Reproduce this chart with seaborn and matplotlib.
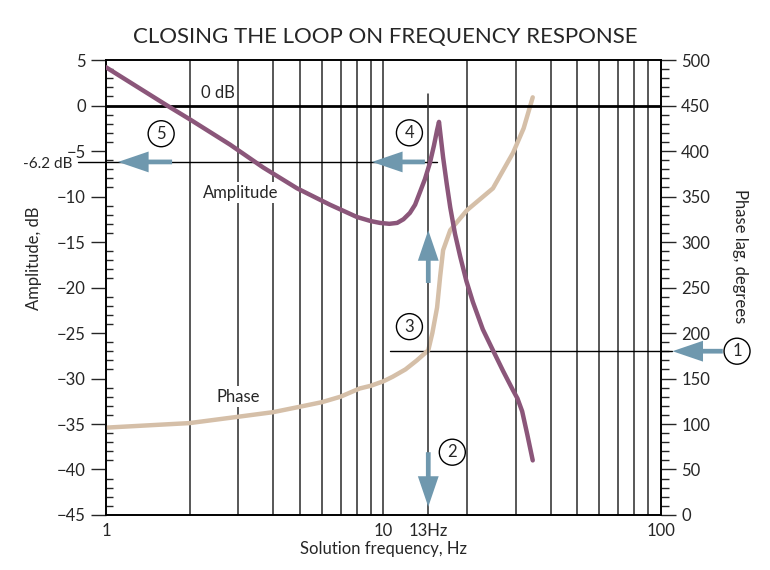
import numpy as np
import matplotlib
matplotlib.use("Agg")
import matplotlib.pyplot as plt
import seaborn as sns

# Amplitude curve (left axis, dB)
amp_freq = [1.0, 1.66, 2.0, 2.8, 3.68, 4.88, 6.41, 8.02, 9.0, 9.71, 10.5, 11.2, 11.8, 12.45,
            13.0, 13.5, 14.1, 14.7, 15.2, 15.6, 15.85, 16.1, 16.4, 16.9, 17.4, 18.1, 18.9,
            19.9, 21.0, 22.8, 24.8, 27.0, 29.3, 30.4, 31.6, 33.0, 34.5]
amp_db = [4.2, 0.0, -1.5, -4.3, -6.8, -9.1, -10.9, -12.25, -12.7, -12.9, -13.0, -12.9, -12.5,
          -11.8, -10.9, -9.6, -8.1, -6.3, -4.4, -2.7, -1.8, -3.6, -5.7, -8.6, -11.2, -14.1,
          -16.6, -19.3, -21.6, -24.6, -26.9, -29.2, -31.3, -32.2, -33.6, -36.2, -39.0]

# Phase curve (right axis, degrees)
ph_freq = [1.0, 2.0, 3.0, 4.0, 5.0, 6.0, 7.0, 8.2, 9.0, 10.0, 10.8, 12.0, 13.2, 14.5, 15.0,
           15.6, 16.0, 16.4, 17.4, 20.0, 24.8, 29.3, 32.0, 34.5]
ph_deg = [96, 101, 108, 113, 119, 124, 130, 139, 142, 147, 152, 160, 170, 181, 200,
          228, 262, 291, 313, 335, 359, 398, 425, 459]

# reference values
marker_freq = 14.5     # the "13Hz" line as drawn
marker_db = -6.2
marker_phase = 180

xtick_vals = [1, 10, marker_freq, 100]
xtick_labels = ["1", "10", "13Hz", "100"]
grid_freqs = [2, 3, 4, 5, 6, 7, 8, 9, 10, 20, 30, 40, 50, 60, 70, 80, 90]

purple = "#8b567a"
tan = "#d5bfa8"
blue = "#6f98ae"

sns.set_style("white")
plt.rcParams["font.family"] = ["Lato", "DejaVu Sans"]

fig = plt.figure(figsize=(7.7, 5.7), dpi=100)
ax = fig.add_axes([0.1377, 0.0965, 0.7207, 0.7982])
ax2 = ax.twinx()
ax.set_zorder(ax2.get_zorder() + 1)
ax.patch.set_visible(False)

ax.set_xscale("log")
ax.set_xlim(1, 100)
ax.set_ylim(-45, 5)
ax2.set_ylim(0, 500)

# grid lines
for g in grid_freqs:
    ax2.axvline(g, color="#2a2a2a", lw=1.1, zorder=1)
ax.axhline(0, color="black", lw=2, zorder=1)
ax.plot([marker_freq, marker_freq], [1.26, -45], color="#2a2a2a", lw=1.1, zorder=1)
ax.plot([0.793, 15.6], [marker_db, marker_db], color="black", lw=1, zorder=1, clip_on=False)
ax2.plot([10.55, 109.6], [marker_phase, marker_phase], color="black", lw=1, zorder=1, clip_on=False)

sns.lineplot(x=ph_freq, y=ph_deg, ax=ax2, color=tan, lw=3.2, zorder=3)
sns.lineplot(x=amp_freq, y=amp_db, ax=ax, color=purple, lw=3.2, zorder=4)

# labels in the plot
bb = dict(boxstyle="square,pad=0.15", fc="white", ec="none")
ax.text(2.53, 1.4, "0 dB", fontsize=12, ha="center", va="center")
ax.text(3.07, -9.6, "Amplitude", fontsize=12, ha="center", va="center", bbox=bb, zorder=2)
ax.text(2.99, -32.0, "Phase", fontsize=12, ha="center", va="center", bbox=bb, zorder=2)
ax.text(0.754, marker_db - 0.25, "-6.2 dB", fontsize=11, ha="right", va="center", clip_on=False)

# arrows
arrow = dict(arrowstyle="simple,head_length=2.2,head_width=1.5,tail_width=0.34",
             color=blue, lw=0, shrinkA=0, shrinkB=0, mutation_scale=10)
ax.annotate("", xy=(1.105, marker_db), xytext=(1.73, marker_db), arrowprops=arrow, zorder=5)
ax.annotate("", xy=(9.09, marker_db), xytext=(14.1, marker_db), arrowprops=arrow, zorder=5)
ax.annotate("", xy=(marker_freq, -13.7), xytext=(marker_freq, -19.5), arrowprops=arrow, zorder=5)
ax.annotate("", xy=(marker_freq, -44.1), xytext=(marker_freq, -38.1), arrowprops=arrow, zorder=5)
ax2.annotate("", xy=(110, marker_phase), xytext=(167, marker_phase), arrowprops=arrow,
             annotation_clip=False)

# numbered circles
circ = dict(boxstyle="circle,pad=0.3", fc="white", ec="black", lw=1)
ax2.text(188, marker_phase, "1", fontsize=12, ha="center", va="center", bbox=circ, clip_on=False, zorder=6)
ax.text(17.7, -38.1, "2", fontsize=12, ha="center", va="center", bbox=circ, zorder=6)
ax.text(12.4, -24.3, "3", fontsize=12, ha="center", va="center", bbox=circ, zorder=6)
ax.text(12.4, -3.0, "4", fontsize=12, ha="center", va="center", bbox=circ, zorder=6)
ax.text(1.58, -3.1, "5", fontsize=12, ha="center", va="center", bbox=circ, zorder=6)

# ticks
ax.set_xticks(xtick_vals)
ax.set_xticklabels(xtick_labels)
ax.xaxis.set_minor_locator(matplotlib.ticker.NullLocator())
ax.tick_params(axis="x", length=0, labelsize=12, pad=6)
ax.set_yticks(np.arange(-45, 6, 5))
ax.set_yticks(np.arange(-45, 6, 1), minor=True)
ax.tick_params(axis="y", which="major", direction="out", length=11, width=1, labelsize=12)
ax.tick_params(axis="y", which="minor", direction="in", length=5, width=1)
ax2.set_yticks(np.arange(0, 501, 50))
ax2.set_yticks(np.arange(0, 501, 10), minor=True)
ax2.tick_params(axis="y", which="major", direction="out", length=11, width=1, labelsize=12)
ax2.tick_params(axis="y", which="minor", direction="out", length=6, width=1)

for a in (ax, ax2):
    for s in a.spines.values():
        s.set_color("black")
        s.set_linewidth(1.2)

ax.set_xlabel("Solution frequency, Hz", fontsize=12, labelpad=1)
ax.set_ylabel("Amplitude, dB", fontsize=12)
ax.yaxis.set_label_coords(-0.115, 0.565)
ax2.set_ylabel("Phase lag, degrees", fontsize=12, rotation=270, va="center")
ax2.yaxis.set_label_coords(1.142, 0.57)
fig.text(0.5, 0.935, "CLOSING THE LOOP ON FREQUENCY RESPONSE", fontsize=16, ha="center", va="center")

fig.savefig("out.png", dpi=100)
